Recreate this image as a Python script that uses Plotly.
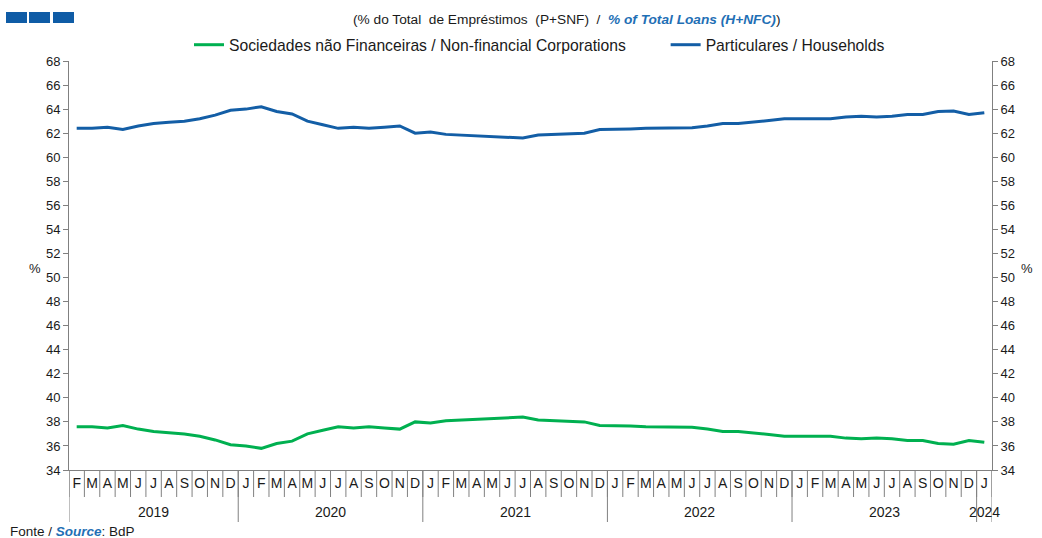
import plotly.graph_objects as go

months = ["F","M","A","M","J","J","A","S","O","N","D",
          "J","F","M","A","M","J","J","A","S","O","N","D",
          "J","F","M","A","M","J","J","A","S","O","N","D",
          "J","F","M","A","M","J","J","A","S","O","N","D",
          "J","F","M","A","M","J","J","A","S","O","N","D",
          "J"]
years = ["2019", "2020", "2021", "2022", "2023", "2024"]
year_counts = [11, 12, 12, 12, 12, 1]

households = [62.4, 62.4, 62.5, 62.3, 62.6, 62.8, 62.9, 63.0, 63.2, 63.5, 63.9,
              64.0, 64.2, 63.8, 63.6, 63.0, 62.7, 62.4, 62.5, 62.4, 62.5, 62.6, 62.0,
              62.1, 61.9, 61.85, 61.8, 61.7, 61.7, 61.6, 61.85, 61.9, 62.0, 62.0, 62.3,
              62.3, 62.35, 62.4, 62.4, 62.4, 62.45, 62.6, 62.8, 62.8, 62.9, 63.05, 63.2,
              63.2, 63.2, 63.2, 63.35, 63.4, 63.35, 63.4, 63.55, 63.55, 63.8, 63.85, 63.55,
              63.7]
corporations = [37.6, 37.6, 37.5, 37.7, 37.4, 37.2, 37.1, 37.0, 36.8, 36.5, 36.1,
                36.0, 35.8, 36.2, 36.4, 37.0, 37.3, 37.6, 37.5, 37.6, 37.5, 37.4, 38.0,
                37.9, 38.1, 38.15, 38.2, 38.3, 38.3, 38.4, 38.15, 38.1, 38.0, 38.0, 37.7,
                37.7, 37.65, 37.6, 37.6, 37.6, 37.55, 37.4, 37.2, 37.2, 37.1, 36.95, 36.8,
                36.8, 36.8, 36.8, 36.65, 36.6, 36.65, 36.6, 36.45, 36.45, 36.2, 36.15, 36.45,
                36.3]

x = list(range(len(months)))
GREEN = "#00B050"
BLUE = "#135EA6"
GRAY = "#808080"
TXT = "#1a1a1a"
FONT = "Liberation Sans, Arial, sans-serif"
PAD = "\u00a0" * 8

fig = go.Figure()
fig.add_trace(go.Scatter(x=x, y=corporations, mode="lines",
                         name="Sociedades não Financeiras / Non-financial Corporations" + PAD,
                         line=dict(color=GREEN, width=3)))
fig.add_trace(go.Scatter(x=x, y=households, mode="lines",
                         name="Particulares / Households",
                         line=dict(color=BLUE, width=3)))
fig.add_trace(go.Scatter(x=x, y=households, mode="lines", yaxis="y2",
                         showlegend=False, hoverinfo="skip",
                         line=dict(color="rgba(0,0,0,0)", width=0)))

# plot area geometry (pixels)
W, H = 1042, 538
L, R, T, B = 69, 50, 61, 68
ph = H - T - B
pw = W - L - R

def py(ypix):
    return (H - B - ypix) / ph

def px(xpix):
    return (xpix - L) / pw

shapes = []
# month separators
for i in range(len(months) + 1):
    shapes.append(dict(type="line", xref="x", yref="paper",
                       x0=i - 0.5, x1=i - 0.5, y0=0, y1=py(497),
                       line=dict(color=GRAY, width=1)))
# year separators
pos = -0.5
annotations = []
for yr, cnt in zip(years, year_counts):
    shapes.append(dict(type="line", xref="x", yref="paper",
                       x0=pos, x1=pos, y0=0, y1=py(522),
                       line=dict(color=GRAY, width=1)))
    annotations.append(dict(x=pos + cnt / 2, y=py(512), xref="x", yref="paper",
                            text=yr, showarrow=False, yanchor="middle",
                            font=dict(size=14, color=TXT, family=FONT)))
    pos += cnt
shapes.append(dict(type="line", xref="x", yref="paper",
                   x0=pos, x1=pos, y0=0, y1=py(522),
                   line=dict(color=GRAY, width=1)))

# blue squares top-left
for x0p, x1p in [(6, 27), (29, 50), (53, 74)]:
    shapes.append(dict(type="rect", xref="paper", yref="paper",
                       x0=px(x0p), x1=px(x1p), y0=py(23), y1=py(12),
                       fillcolor="#0F5CA6", line=dict(width=0)))

annotations += [
    dict(x=px(566), y=py(20), xref="paper", yref="paper", yanchor="middle",
         text="(% do Total  de Empréstimos  (P+SNF)  /  <b><i><span style='color:#1F6FB5'>% of Total Loans (H+NFC)</span></i></b>)",
         showarrow=False, font=dict(size=13.7, color=TXT, family=FONT)),
    dict(x=px(27), y=py(268), xref="paper", yref="paper",
         text="%", showarrow=False, font=dict(size=13, color=TXT, family=FONT)),
    dict(x=px(1035), y=py(268), xref="paper", yref="paper",
         text="%", showarrow=False, font=dict(size=13, color=TXT, family=FONT)),
    dict(x=px(8), y=py(531), xref="paper", yref="paper", yanchor="middle",
         xanchor="left", text="Fonte / <b><i><span style='color:#1F6FB5'>Source</span></i></b>: BdP",
         showarrow=False, font=dict(size=13.5, color=TXT, family=FONT)),
]

yax = dict(range=[34, 68], dtick=2, tick0=34, showgrid=False, zeroline=False,
           showline=True, linecolor=GRAY, linewidth=1, ticks="outside",
           ticklen=5, tickcolor=GRAY, automargin=False,
           tickfont=dict(size=13, color=TXT, family=FONT))

fig.update_layout(
    width=W, height=H,
    margin=dict(l=L, r=R, t=T, b=B, autoexpand=False),
    plot_bgcolor="white", paper_bgcolor="white",
    font=dict(family=FONT, color=TXT),
    xaxis=dict(range=[-0.5, len(months) - 0.5], tickvals=x, ticktext=months,
               showgrid=False, zeroline=False, showline=True, linecolor=GRAY,
               ticks="", automargin=False,
               tickfont=dict(size=14, color=TXT, family=FONT)),
    yaxis=yax,
    yaxis2=dict(yax, overlaying="y", side="right"),
    legend=dict(orientation="h", xref="container", yref="container",
                x=189 / W, xanchor="left",
                y=1 - 45 / H, yanchor="middle",
                font=dict(size=15.7, color=TXT, family=FONT),
                itemwidth=30, tracegroupgap=0,
                bgcolor="rgba(0,0,0,0)"),
    shapes=shapes,
    annotations=annotations,
    showlegend=True,
)

fig.write_html("out.html", config={"displayModeBar": False},
               post_script="document.body.style.margin='0';document.body.style.overflow='hidden';")
